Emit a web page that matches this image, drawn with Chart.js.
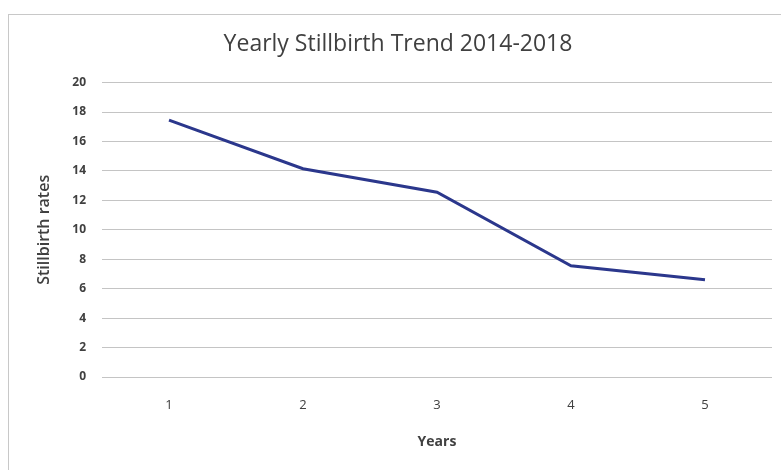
<!DOCTYPE html>
<html>
<head>
<meta charset="utf-8">
<script src="https://cdn.jsdelivr.net/npm/chart.js@4/dist/chart.umd.min.js"></script>
<style>
  html, body { margin: 0; padding: 0; background: #ffffff; }
  #wrap { position: relative; width: 781px; height: 470px; overflow: hidden; }
  #frame { position: absolute; left: 8px; top: 14px; width: 800px; height: 500px;
           border-left: 1px solid #c8c8c8; border-top: 1px solid #c8c8c8; }
  #c { position: absolute; left: 0; top: 0; }
</style>
</head>
<body>
<div id="wrap">
  <div id="frame"></div>
  <canvas id="c" width="781" height="470"></canvas>
</div>
<script>
const titleText = "Yearly Stillbirth Trend 2014-2018";
const yearLabels = ["1", "2", "3", "4", "5"];
const stillbirthRates = [17.45, 14.15, 12.55, 7.55, 6.6];
const yTitle = "Stillbirth rates";
const xTitle = "Years";

const FONT = "'Open Sans', 'Noto Sans', sans-serif";

new Chart(document.getElementById('c'), {
  type: 'line',
  data: {
    labels: yearLabels,
    datasets: [{
      data: stillbirthRates,
      borderColor: '#2b378c',
      borderWidth: 3,
      pointRadius: 0,
      tension: 0,
      fill: false
    }]
  },
  options: {
    responsive: false,
    animation: false,
    layout: { padding: { left: 24, right: 9, top: 0, bottom: 0 } },
    plugins: {
      legend: { display: false },
      tooltip: { enabled: false },
      title: {
        display: true,
        text: titleText,
        color: '#404040',
        font: { family: FONT, size: 23, weight: 'normal', lineHeight: 1.2 },
        padding: { top: 31, bottom: 24 }
      }
    },
    scales: {
      x: {
        offset: true,
        grid: { display: false, drawTicks: false },
        border: { display: false },
        ticks: { color: '#404040', padding: 20, font: { family: FONT, size: 13 } },
        title: {
          display: true, text: xTitle, color: '#404040',
          font: { family: FONT, size: 14, weight: 'bold', lineHeight: 1.2 },
          padding: { top: 0, bottom: 20 }
        },
        afterFit: (s) => { s.height = 93; }
      },
      y: {
        min: 0, max: 20,
        ticks: { stepSize: 2, color: '#404040', padding: 16, font: { family: FONT, size: 12, weight: 'bold' } },
        grid: { color: '#c4c4c4', lineWidth: 1, drawTicks: false },
        border: { display: false },
        title: {
          display: true, text: yTitle, color: '#404040',
          font: { family: FONT, size: 16, weight: '600', lineHeight: 1.2 },
          padding: { top: 11, bottom: 0 }
        },
        afterFit: (s) => { s.width = 78; }
      }
    }
  }
});
</script>
</body>
</html>
